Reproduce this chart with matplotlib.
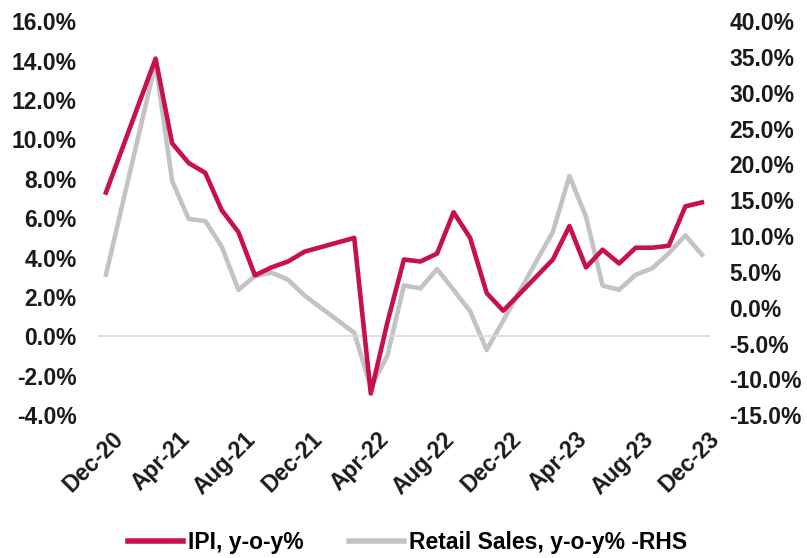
import matplotlib
matplotlib.use("Agg")
import matplotlib.pyplot as plt
import matplotlib.transforms as mtrans
import numpy as np

plt.rcParams['font.family'] = ['Liberation Sans', 'DejaVu Sans']
plt.rcParams['font.weight'] = 'bold'

# monthly, Dec-20 .. Dec-23 (Jan/Feb not published separately -> None)
months = ['Dec-20',
          'Jan-21', 'Feb-21', 'Mar-21', 'Apr-21', 'May-21', 'Jun-21', 'Jul-21', 'Aug-21',
          'Sep-21', 'Oct-21', 'Nov-21', 'Dec-21',
          'Jan-22', 'Feb-22', 'Mar-22', 'Apr-22', 'May-22', 'Jun-22', 'Jul-22', 'Aug-22',
          'Sep-22', 'Oct-22', 'Nov-22', 'Dec-22',
          'Jan-23', 'Feb-23', 'Mar-23', 'Apr-23', 'May-23', 'Jun-23', 'Jul-23', 'Aug-23',
          'Sep-23', 'Oct-23', 'Nov-23', 'Dec-23']

ipi = [7.3,
       None, None, 14.1, 9.8, 8.8, 8.3, 6.4, 5.3, 3.1, 3.5, 3.8, 4.3,
       None, None, 5.0, -2.9, 0.7, 3.9, 3.8, 4.2, 6.3, 5.0, 2.2, 1.3,
       None, None, 3.9, 5.6, 3.5, 4.4, 3.7, 4.5, 4.5, 4.6, 6.6, 6.8]

retail = [4.6,
          None, None, 34.2, 17.7, 12.4, 12.1, 8.5, 2.5, 4.4, 4.9, 3.9, 1.7,
          None, None, -3.5, -11.1, -6.7, 3.1, 2.7, 5.4, 2.5, -0.5, -5.9, -1.8,
          None, None, 10.6, 18.4, 12.7, 3.1, 2.5, 4.6, 5.5, 7.6, 10.1, 7.4]

tick_labels = ['Dec-20', 'Apr-21', 'Aug-21', 'Dec-21', 'Apr-22',
               'Aug-22', 'Dec-22', 'Apr-23', 'Aug-23', 'Dec-23']

x = np.arange(len(months))
ipi_a = np.array(ipi, dtype=float)
ret_a = np.array(retail, dtype=float)
m1 = ~np.isnan(ipi_a)
m2 = ~np.isnan(ret_a)

fig = plt.figure(figsize=(8.07, 5.58), dpi=100)
ax = fig.add_axes([0.121, 0.256, 0.759, 0.706])
ax2 = ax.twinx()

red = '#C8104A'
grey = '#C3C3C3'

ax.axhline(0, color='#D9D9D9', lw=1.2, zorder=0)
ax2.plot(x[m2], ret_a[m2], color=grey, lw=3.3, solid_joinstyle='round')
ax.plot(x[m1], ipi_a[m1], color=red, lw=3.3, solid_joinstyle='round')
ax.set_zorder(ax2.get_zorder() + 1)
ax.patch.set_visible(False)

ax.set_xlim(-0.5, len(months) - 0.5)
ax.set_ylim(-4, 16)
ax2.set_ylim(-15, 40)
ax.set_yticks(np.arange(-4, 17, 2))
ax2.set_yticks(np.arange(-15, 41, 5))
ax.set_yticklabels([f'{v:.1f}%' for v in np.arange(-4, 17, 2)])
ax2.set_yticklabels([f'{v:.1f}%' for v in np.arange(-15, 41, 5)])

pos = [months.index(t) for t in tick_labels]
ax.set_xticks(pos)
ax.set_xticklabels(tick_labels, rotation=45, ha='right', rotation_mode='anchor')

fs = 16.5
for a in (ax, ax2):
    for s in a.spines.values():
        s.set_visible(False)
    a.tick_params(length=0, labelsize=fs, colors='#1a1a1a')
ax.tick_params(axis='y', pad=15)
ax2.tick_params(axis='y', pad=14)
ax.tick_params(axis='x', pad=9)

# nudge the slanted month labels a little to the right, like the original
shift = mtrans.ScaledTranslation(6 / 100, 0, fig.dpi_scale_trans)
for lab in ax.get_xticklabels():
    lab.set_transform(lab.get_transform() + shift)

l2, = ax.plot([], [], color=grey, lw=4)
l1, = ax.plot([], [], color=red, lw=4)
fig.legend([l1, l2], ['IPI, y-o-y%', 'Retail Sales, y-o-y% -RHS'],
           loc='center', bbox_to_anchor=(0.505, 0.027), ncol=2, frameon=False,
           fontsize=fs, handlelength=2.4, handletextpad=0.2, columnspacing=2.0)

fig.savefig('out.png', dpi=100)
